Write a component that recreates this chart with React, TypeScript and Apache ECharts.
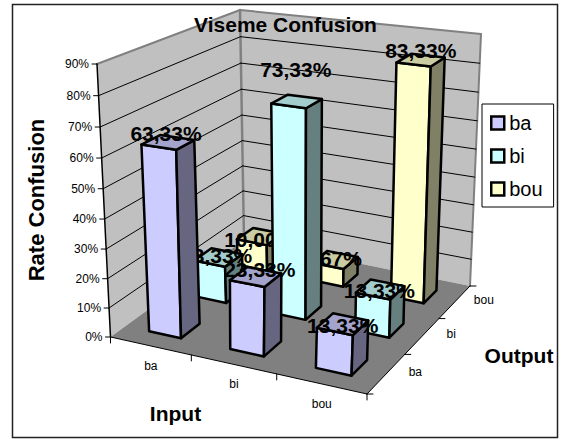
import React, { useEffect, useRef } from "react";
import * as echarts from "echarts";

const inputs = ["ba", "bi", "bou"];
const outputs = ["ba", "bi", "bou"];
const baValues = [63.33, 23.33, 13.33];
const biValues = [13.33, 73.33, 13.33];
const bouValues = [10.0, 6.67, 83.33];
const rateTicks = [0, 10, 20, 30, 40, 50, 60, 70, 80, 90];
const chartTitle = "Viseme Confusion";
const rateTitle = "Rate Confusion";
const inputTitle = "Input";
const outputTitle = "Output";

const FONT = '"Liberation Sans", Arial, sans-serif';
const RATE_MAX = 90;
const CELLS = 3;
const BAR_START = 0.3;
const BAR_END = 0.7;

// Square-to-quad homography: (0,0)->p0, (1,0)->p1, (1,1)->p2, (0,1)->p3
function quad(p0: number[], p1: number[], p2: number[], p3: number[]) {
  const dx1 = p1[0] - p2[0], dx2 = p3[0] - p2[0], sx = p0[0] - p1[0] + p2[0] - p3[0];
  const dy1 = p1[1] - p2[1], dy2 = p3[1] - p2[1], sy = p0[1] - p1[1] + p2[1] - p3[1];
  const den = dx1 * dy2 - dx2 * dy1;
  const g = (sx * dy2 - dx2 * sy) / den;
  const k = (dx1 * sy - sx * dy1) / den;
  const a = p1[0] - p0[0] + g * p1[0], b = p3[0] - p0[0] + k * p3[0];
  const d = p1[1] - p0[1] + g * p1[1], e = p3[1] - p0[1] + k * p3[1];
  return (u: number, v: number) => {
    const w = g * u + k * v + 1;
    return [(a * u + b * v + p0[0]) / w, (d * u + e * v + p0[1]) / w];
  };
}

// Plane of the top tick: A(0,0), B(1,0), C(1,1), D(0,1), mixed without perspective
const CEIL_A = [97, 64];
const CEIL_B = [380, 100];
const CEIL_C = [481, 34];
const CEIL_D = [240, 10];
function ceilingAt(u: number, v: number) {
  return [0, 1].map((n) => {
    const near = CEIL_A[n] + (CEIL_B[n] - CEIL_A[n]) * u;
    const far = CEIL_D[n] + (CEIL_C[n] - CEIL_D[n]) * u;
    return near + (far - near) * v;
  });
}

const floorAt = quad([110.5, 337], [367, 394], [470, 286], [244, 240]);
const HEIGHT_BEND = 0.05;
const WIDTH_BEND = 0.045;

function project(u: number, v: number, h: number): number[] {
  const bentU = u - WIDTH_BEND * u * (1 - u);
  const lo = floorAt(bentU, v);
  const hi = ceilingAt(bentU, v);
  const t = h * (1 - HEIGHT_BEND * (1 - h));
  return [lo[0] + (hi[0] - lo[0]) * t, lo[1] + (hi[1] - lo[1]) * t];
}

// Reads the library's scales: x axis = input position, y axis = rate
function scaled(params: any, api: any) {
  const cs = params.coordSys;
  return (uVal: number, rate: number, vVal: number) => {
    const p = api.coord([uVal, rate]);
    return project((p[0] - cs.x) / cs.width, vVal / CELLS, (cs.y + cs.height - p[1]) / cs.height);
  };
}

const barStyles = [
  { name: "ba", front: "#CCCCFF", side: "#666680", top: "#A3A3CC" },
  { name: "bi", front: "#CCFFFF", side: "#668080", top: "#A3CCCC" },
  { name: "bou", front: "#FFFFCC", side: "#808066", top: "#CCCCA3" },
];

// Pixel nudges of each data label from the centre of its bar's top: [output][input]
const labelNudges = [
  [[-2, -9], [4, -7], [0, 1]],
  [[-1.5, -1.5], [-1, -32], [-1, 1]],
  [[0, 3.5], [-3, -1], [0, -10]],
];

const formatRate = (val: number) => val.toFixed(2).replace(".", ",") + "%";

function text(x: number, y: number, str: string, size: number, bold: boolean, align = "center") {
  return {
    type: "text",
    x,
    y,
    style: {
      text: str,
      fill: "#000",
      fontFamily: FONT,
      fontSize: size,
      fontWeight: bold ? "bold" : "normal",
      textAlign: align,
      textVerticalAlign: "middle",
    },
  };
}

function poly(points: number[][], fill: string, stroke: string, lineWidth: number) {
  return {
    type: "polygon",
    shape: { points },
    style: { fill, stroke, lineWidth, lineJoin: "round" },
  };
}

function line(p: number[], q: number[], stroke: string, lineWidth: number) {
  return {
    type: "line",
    shape: { x1: p[0], y1: p[1], x2: q[0], y2: q[1] },
    style: { stroke, lineWidth, lineCap: "round" },
  };
}

function renderBox(params: any, api: any) {
  const P = scaled(params, api);
  const a0 = P(0, 0, 0), b0 = P(CELLS, 0, 0), c0 = P(CELLS, 0, CELLS), d0 = P(0, 0, CELLS);
  const a9 = P(0, RATE_MAX, 0), c9 = P(CELLS, RATE_MAX, CELLS), d9 = P(0, RATE_MAX, CELLS);
  return {
    type: "group",
    children: [
      poly([a0, d0, d9, a9], "#C0C0C0", "none", 0),
      poly([d0, c0, c9, d9], "#C0C0C0", "none", 0),
      line(a9, d9, "#808080", 2),
      line(d9, c9, "#808080", 2),
      line(c9, c0, "#808080", 2),
      line(d9, d0, "#808080", 2.5),
      poly([a0, b0, c0, d0], "#808080", "none", 0),
    ],
  };
}

function renderRateTick(params: any, api: any) {
  const P = scaled(params, api);
  const rate = api.value(1);
  const front = P(0, rate, 0), corner = P(0, rate, CELLS), right = P(CELLS, rate, CELLS);
  const children: any[] = [
    line([front[0] - 5, front[1]], front, "#000", 1),
    text(front[0] - 8, front[1], rate + "%", 12, false, "right"),
  ];
  if (rate > 0 && rate < RATE_MAX) {
    children.push(line(front, corner, "#000", 1), line(corner, right, "#000", 1));
  }
  return { type: "group", children };
}

function renderFloorAxes(params: any, api: any) {
  const P = scaled(params, api);
  const children: any[] = [
    line(P(0, 0, 0), P(0, RATE_MAX, 0), "#000", 1.5),
    line(P(0, 0, 0), P(CELLS, 0, 0), "#000", 1),
    line(P(CELLS, 0, 0), P(CELLS, 0, CELLS), "#000", 1),
  ];
  for (let i = 0; i <= CELLS; i++) {
    const p = P(i, 0, 0);
    children.push(line(p, [p[0], p[1] + 6], "#000", 1));
    const q = P(CELLS, 0, i);
    children.push(line(q, [q[0] + 6, q[1]], "#000", 1));
  }
  inputs.forEach((name, i) => {
    const p = P(i + 0.5, 0, 0);
    children.push(text(p[0] + 0.5, p[1] + 20, name, 12, false));
  });
  outputs.forEach((name, j) => {
    const p = P(CELLS, 0, j + 0.5);
    children.push(text(p[0] + 29, p[1] - 2, name, 12, false));
  });
  return { type: "group", children };
}

function renderBar(outputIndex: number) {
  const st = barStyles[outputIndex];
  return (params: any, api: any) => {
    const P = scaled(params, api);
    const i = api.value(0);
    const rate = api.value(1);
    const j = api.value(2);
    const u0 = i + BAR_START, u1 = i + BAR_END, v0 = j + BAR_START, v1 = j + BAR_END;
    const fl = P(u0, 0, v0), fr = P(u1, 0, v0), br = P(u1, 0, v1);
    const tfl = P(u0, rate, v0), tfr = P(u1, rate, v0), tbr = P(u1, rate, v1), tbl = P(u0, rate, v1);
    const cx = (tfl[0] + tfr[0] + tbr[0] + tbl[0]) / 4;
    const cy = (tfl[1] + tfr[1] + tbr[1] + tbl[1]) / 4;
    const nudge = labelNudges[j][i];
    return {
      type: "group",
      children: [
        poly([fl, fr, tfr, tfl], st.front, "#000", 2.5),
        poly([fr, br, tbr, tfr], st.side, "#000", 2.5),
        poly([tfl, tfr, tbr, tbl], st.top, "#000", 2.5),
        text(cx + nudge[0], cy + nudge[1], formatRate(rate), 21, true),
      ],
    };
  };
}

const barValues = [baValues, biValues, bouValues];

export default function App() {
  const ref = useRef<HTMLDivElement>(null);
  useEffect(() => {
    const chart = echarts.init(ref.current!, undefined, { renderer: "svg" });
    const barSeries = [2, 1, 0].map((j) => ({
      type: "custom",
      name: barStyles[j].name,
      coordinateSystem: "cartesian2d",
      renderItem: renderBar(j),
      itemStyle: { color: barStyles[j].front },
      encode: { x: 0, y: 1 },
      clip: false,
      data: barValues[j].map((val, i) => [i, val, j]),
    }));
    chart.setOption({
      animation: false,
      backgroundColor: "#fff",
      grid: { left: 0, right: 0, top: 0, bottom: 0 },
      xAxis: { type: "value", min: 0, max: CELLS, show: false },
      yAxis: { type: "value", min: 0, max: RATE_MAX, interval: 10, show: false },
      legend: {
        data: ["ba", "bi", "bou"],
        orient: "vertical",
        left: 482,
        top: 104,
        padding: [9, 11, 8, 8],
        itemGap: 13,
        itemWidth: 13,
        itemHeight: 13,
        icon: "rect",
        selectedMode: false,
        backgroundColor: "#fff",
        borderColor: "#000",
        borderWidth: 1,
        itemStyle: { borderColor: "#000", borderWidth: 2.5 },
        textStyle: { fontFamily: FONT, fontSize: 20, color: "#000", padding: [0, 0, 0, 0] },
      },
      graphic: [
        {
          type: "rect",
          z: 0,
          shape: { x: 12.5, y: 4.5, width: 545, height: 433 },
          style: { fill: "#fff", stroke: "#222", lineWidth: 1.5 },
        },
        { ...text(285.5, 24, chartTitle, 21, true), z: 100 },
        { ...text(36, 200, rateTitle, 22, true), rotation: Math.PI / 2, z: 100 },
        { ...text(175.5, 413, inputTitle, 21, true), z: 100 },
        { ...text(519, 355, outputTitle, 21, true), z: 100 },
      ],
      series: [
        { type: "custom", name: "box", renderItem: renderBox, clip: false, encode: { x: 0, y: 1 }, data: [[0, 0, 0]] },
        {
          type: "custom",
          name: "rate ticks",
          renderItem: renderRateTick,
          clip: false,
          encode: { x: 0, y: 1 },
          data: rateTicks.map((t) => [0, t, 0]),
        },
        { type: "custom", name: "axes", renderItem: renderFloorAxes, clip: false, encode: { x: 0, y: 1 }, data: [[0, 0, 0]] },
        ...barSeries,
      ],
    });
    return () => chart.dispose();
  }, []);
  return <div ref={ref} style={{ position: "absolute", left: 0, top: 0, width: 561, height: 439 }} />;
}
